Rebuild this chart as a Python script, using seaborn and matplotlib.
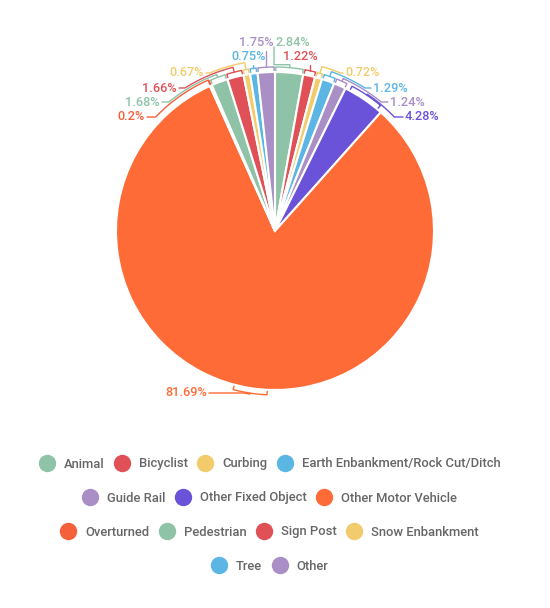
import numpy as np
import matplotlib
matplotlib.use("Agg")
import matplotlib.pyplot as plt
import seaborn as sns
from matplotlib.lines import Line2D

# ---- data ----
categories = ["Animal", "Bicyclist", "Curbing", "Earth Enbankment/Rock Cut/Ditch",
              "Guide Rail", "Other Fixed Object", "Other Motor Vehicle",
              "Overturned", "Pedestrian", "Sign Post", "Snow Enbankment",
              "Tree", "Other"]
values = [2.84, 1.22, 0.72, 1.29, 1.24, 4.28, 81.69, 0.2, 1.68, 1.66, 0.67, 0.75, 1.75]
colors = ["#8ec3a7", "#df5157", "#f2cb6c", "#5cb6e4", "#a98fc6", "#6a52d9", "#ff6b36",
          "#f4603a", "#8ec3a7", "#df5157", "#f2cb6c", "#5cb6e4", "#a98fc6"]
legend_rows = [[0, 1, 2, 3], [4, 5, 6], [7, 8, 9, 10], [11, 12]]

# ---- layout (pixel positions of labels: x, y, ha, mode, nesting level) ----
label_layout = [
    (276, 43, "left", "hook", 0),
    (283, 57, "left", "below", 0),
    (345, 73, "left", "side", 3),
    (373, 88, "left", "side", 2),
    (390, 102, "left", "side", 1),
    (405, 117, "left", "side", 0),
    (207, 393, "right", "side", 0),
    (145, 117, "right", "side", 0),
    (160, 102, "right", "side", 1),
    (177, 88, "right", "side", 2),
    (204, 73, "right", "side", 3),
    (266, 57, "right", "below", 0),
    (274, 43, "right", "below", 0),
]

W, H = 550, 608
CX, CY_PX, R = 275, 231, 159

sns.set_theme(style="white")
plt.rcParams["font.family"] = ["Roboto", "DejaVu Sans"]

fig = plt.figure(figsize=(W / 100, H / 100), dpi=100)
ax = fig.add_axes([0, 0, 1, 1])


def py(y):
    return H - y


cy = py(CY_PX)
wedges, _ = ax.pie(values, colors=colors, startangle=90, counterclock=False,
                   center=(CX, cy), radius=R,
                   wedgeprops=dict(edgecolor="white", linewidth=1.5))
ax.set_xlim(0, W)
ax.set_ylim(0, H)
ax.set_aspect("equal")
ax.axis("off")


def pol(r, a):
    t = np.deg2rad(a)
    return CX + r * np.cos(t), cy + r * np.sin(t)


for i, w in enumerate(wedges):
    col = colors[i]
    t1, t2 = w.theta1, w.theta2
    mid = (t1 + t2) / 2
    half = min((t2 - t1) / 2 - 0.3, 6.0)
    half = max(half, 0.15)
    a1, a2 = mid - half, mid + half
    rb = R + 5
    arc = np.linspace(a1, a2, 40)
    xs = [pol(R + 1, a1)[0]] + [pol(rb, a)[0] for a in arc] + [pol(R + 1, a2)[0]]
    ys = [pol(R + 1, a1)[1]] + [pol(rb, a)[1] for a in arc] + [pol(R + 1, a2)[1]]
    ax.plot(xs, ys, color=col, lw=1, solid_capstyle="butt")

    lx, ly_px, ha, mode, k = label_layout[i]
    ly = py(ly_px)
    s = 1 if ha == "left" else -1
    mx, my = pol(rb, mid)
    if mode == "below":
        ax.plot([mx, mx], [my, ly - 8], color=col, lw=1)
    elif mode == "hook":
        hx, hy = pol(R + 8, mid)
        ax.plot([mx, hx, lx - 2, lx - 2], [my, hy, hy, ly - 4], color=col, lw=1)
    else:
        rl = R + 6 + 2 * k
        ratio = np.clip((ly - cy) / rl, -1, 1)
        phi = np.rad2deg(np.arcsin(ratio))
        if s < 0:
            phi = 180 - phi
        while phi - mid > 180:
            phi -= 360
        while mid - phi > 180:
            phi += 360
        arc2 = np.linspace(mid, phi, 60)
        px_ = [mx] + [pol(rl, a)[0] for a in arc2] + [lx - s * 2]
        py_ = [my] + [pol(rl, a)[1] for a in arc2] + [ly]
        ax.plot(px_, py_, color=col, lw=1)
    ax.text(lx, ly, f"{values[i]:g}%", color=col, ha=ha, va="center",
            fontsize=9.2, fontweight="medium")

row_y = [464, 498, 532, 566]
for row, yy in zip(legend_rows, row_y):
    handles = [Line2D([0], [0], marker="o", linestyle="none", markersize=11.5,
                      markerfacecolor=colors[j], markeredgecolor=colors[j])
               for j in row]
    lab = [categories[j] for j in row]
    fig.legend(handles, lab, loc="center", bbox_to_anchor=(270 / W, 1 - yy / H),
               ncol=len(row), frameon=False,
               handlelength=1.1, handletextpad=0.75, columnspacing=0.8,
               borderpad=0, borderaxespad=0, labelcolor="#666666",
               prop=dict(weight="medium", size=9.4))

fig.savefig("out.png", dpi=100)
